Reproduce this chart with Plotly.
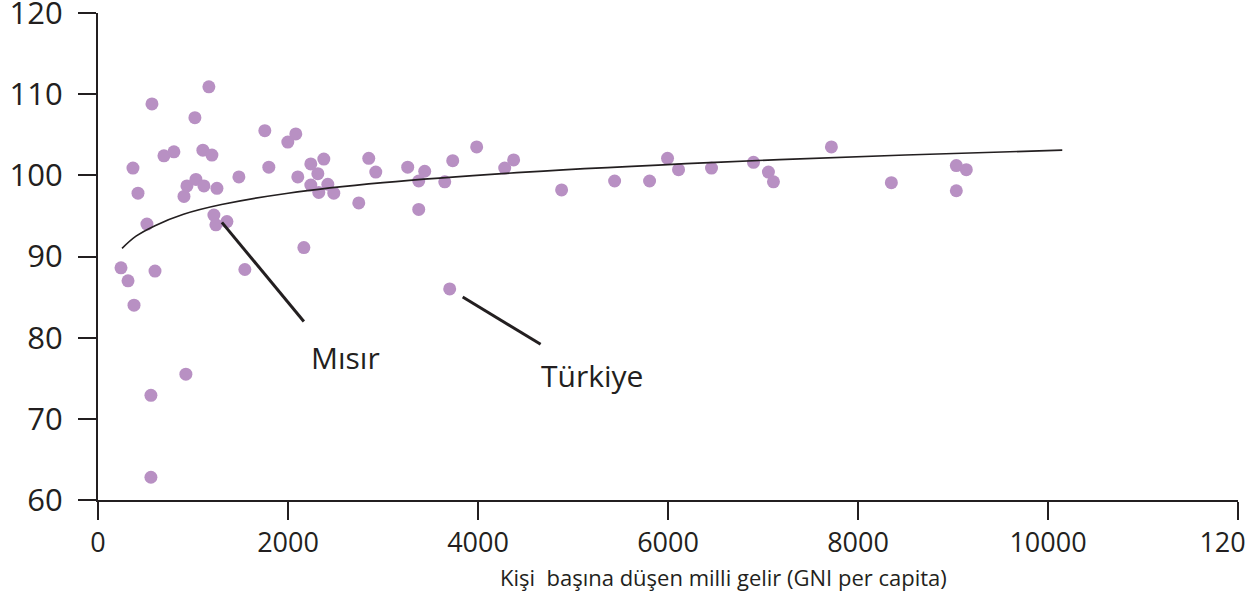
import plotly.graph_objects as go

# GNI per capita (x) vs. value (y) per country
gni = [242, 316, 379, 368, 421, 515, 568, 600, 557, 557,
       694, 799, 925, 905, 936, 1020, 1031, 1104, 1115, 1167,
       1199, 1220, 1252, 1241, 1357, 1483, 1546, 1756, 1798, 1998,
       2082, 2103, 2167, 2240, 2240, 2314, 2324, 2377, 2419, 2482,
       2745, 2850, 2924, 3260, 3376, 3439, 3376, 3650, 3734, 3702,
       3986, 4281, 4375, 4880, 5438, 5806, 5995, 6111, 6458, 6900,
       7057, 7110, 7720, 8351, 9035, 9035, 9140]
val = [88.6, 87.0, 84.0, 100.9, 97.8, 94.0, 108.8, 88.2, 72.9, 62.8,
       102.4, 102.9, 75.5, 97.4, 98.7, 107.1, 99.5, 103.1, 98.7, 110.9,
       102.5, 95.1, 98.4, 93.9, 94.3, 99.8, 88.4, 105.5, 101.0, 104.1,
       105.1, 99.8, 91.1, 101.4, 98.8, 100.2, 97.9, 102.0, 98.9, 97.8,
       96.6, 102.1, 100.4, 101.0, 99.3, 100.5, 95.8, 99.2, 101.8, 86.0,
       103.5, 100.9, 101.9, 98.2, 99.3, 99.3, 102.1, 100.7, 100.9, 101.6,
       100.4, 99.2, 103.5, 99.1, 101.2, 98.1, 100.7]

# Trend curve (logarithmic fit)
trend_x = [253, 400, 600, 900, 1300, 2000, 3000, 4500, 6500, 8500, 10150]
trend_y = [91.0, 92.5, 93.8, 95.2, 96.4, 97.8, 99.1, 100.4, 101.6, 102.5, 103.1]

# Callouts: label, text position, leader line start/end
callouts = [
    ("Mısır", 2610, 77.6, 1304, 94.2, 2167, 82.0),
    ("Türkiye", 5196, 75.4, 3839, 85.0, 4659, 79.2),
]

x_ticks = [0, 2000, 4000, 6000, 8000, 10000, 12000]
y_ticks = [60, 70, 80, 90, 100, 110, 120]
x_title = "Kişi  başına düşen milli gelir (GNI per capita)"

INK = "#231f20"
FONT = "Open Sans, Noto Sans, sans-serif"

fig = go.Figure()
fig.add_trace(go.Scatter(
    x=gni, y=val, mode="markers",
    marker=dict(size=13, color="#b890c3", line=dict(width=0)),
    showlegend=False, hoverinfo="x+y",
))
fig.add_trace(go.Scatter(
    x=trend_x, y=trend_y, mode="lines",
    line=dict(color=INK, width=1.6, shape="spline"),
    showlegend=False, hoverinfo="skip",
))

for label, tx, ty, x0, y0, x1, y1 in callouts:
    fig.add_shape(type="line", xref="x", yref="y", x0=x0, y0=y0, x1=x1, y1=y1,
                  line=dict(color=INK, width=3))
    fig.add_annotation(x=tx, y=ty, xref="x", yref="y", text=label, showarrow=False,
                       font=dict(family=FONT, size=30, color=INK))

fig.add_annotation(x=0.549, y=-0.158, xref="paper", yref="paper", text=x_title,
                   showarrow=False, yanchor="middle",
                   font=dict(family=FONT, size=22, color=INK))

fig.update_layout(
    width=1246, height=596,
    margin=dict(l=98, r=8, t=13, b=96),
    paper_bgcolor="white", plot_bgcolor="white",
    font=dict(family=FONT, color=INK),
)
fig.update_xaxes(
    range=[0, 12000], tickvals=x_ticks, ticktext=[str(v) for v in x_ticks],
    showgrid=False, zeroline=False, showline=True, linecolor=INK, linewidth=2,
    ticks="outside", ticklen=18, tickwidth=2, tickcolor=INK,
    tickfont=dict(family=FONT, size=27, color=INK),
    ticklabeloverflow="allow", ticklabelstandoff=0, automargin=False,
)
fig.update_yaxes(
    range=[60, 120], tickvals=y_ticks, ticktext=[str(v) for v in y_ticks],
    showgrid=False, zeroline=False, showline=True, linecolor=INK, linewidth=2,
    ticks="outside", ticklen=18, tickwidth=2, tickcolor=INK,
    tickfont=dict(family=FONT, size=31, color=INK),
    ticklabeloverflow="allow", ticklabelstandoff=9, automargin=False,
)

# remove the browser's default 8px page margin so the figure sits at (0, 0)
fig.write_html("out.html",
               config={"displayModeBar": False},
               post_script="document.body.style.margin='0';document.body.style.overflow='hidden';")
